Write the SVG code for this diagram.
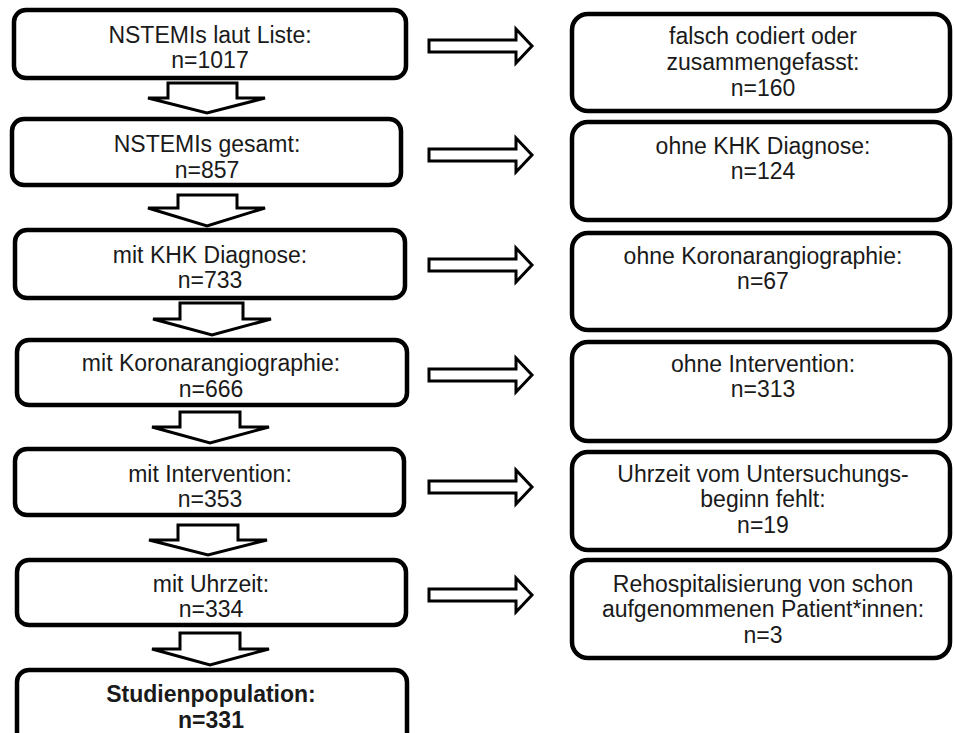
<svg xmlns="http://www.w3.org/2000/svg" width="954" height="733" viewBox="0 0 954 733">
<style>
.box{fill:#fff;stroke:#000;stroke-width:4.5}
.arr{fill:#fff;stroke:#000;stroke-width:3;stroke-linejoin:miter}
text{font-family:"Liberation Sans",Arial,sans-serif;font-size:23px;fill:#1a1a1a;text-anchor:middle}
.b{font-weight:bold}
</style>
<rect width="954" height="733" fill="#fff"/>
<g id="connectors">
<polygon class="arr" points="168,83 237,83 237,98 265,98 207,113 148,98 168,98"/>
<polygon class="arr" points="178,195 237,195 237,208 265,208 207,226 148,208 178,208"/>
<polygon class="arr" points="180,303 243,303 243,319 271,319 212,335 153,319 180,319"/>
<polygon class="arr" points="180,412 240,412 240,427 269,427 210,443 152,427 180,427"/>
<polygon class="arr" points="178,525 238,525 238,540 267,540 208,555 149,540 178,540"/>
<polygon class="arr" points="180,633 240,633 240,649 269,649 210,665 152,649 180,649"/>
<polygon class="arr" points="429,40 516,40 516,29 532,46 516,63 516,52 429,52"/>
<polygon class="arr" points="429,149 516,149 516,138 532,155 516,172 516,161 429,161"/>
<polygon class="arr" points="429,259 516,259 516,248 532,265 516,282 516,271 429,271"/>
<polygon class="arr" points="429,369 516,369 516,358 532,375 516,392 516,381 429,381"/>
<polygon class="arr" points="429,481 516,481 516,470 532,487 516,504 516,493 429,493"/>
<polygon class="arr" points="429,589 516,589 516,578 532,595 516,612 516,601 429,601"/>
</g>
<g id="n1"><rect class="box" x="14" y="10" width="392" height="68" rx="12"/><text x="210" y="43">NSTEMIs laut Liste:</text><text x="210" y="68">n=1017</text></g>
<g id="n2"><rect class="box" x="12" y="119" width="389" height="66" rx="12"/><text x="207" y="152">NSTEMIs gesamt:</text><text x="207" y="178">n=857</text></g>
<g id="n3"><rect class="box" x="15" y="230" width="390" height="68" rx="12"/><text x="210" y="263">mit KHK Diagnose:</text><text x="210" y="288">n=733</text></g>
<g id="n4"><rect class="box" x="17" y="340" width="390" height="65" rx="12"/><text x="211" y="371">mit Koronarangiographie:</text><text x="211" y="397">n=666</text></g>
<g id="n5"><rect class="box" x="15" y="449" width="389" height="66" rx="12"/><text x="210" y="482">mit Intervention:</text><text x="210" y="507">n=353</text></g>
<g id="n6"><rect class="box" x="17" y="560" width="389" height="65" rx="12"/><text x="211" y="592">mit Uhrzeit:</text><text x="211" y="617">n=334</text></g>
<g id="n7"><rect class="box" x="17" y="670" width="390" height="80" rx="12"/><text class="b" x="211" y="702">Studienpopulation:</text><text class="b" x="211" y="728">n=331</text></g>
<g id="r1"><rect class="box" x="572" y="14" width="378" height="97" rx="16"/><text x="763" y="44">falsch codiert oder</text><text x="763" y="70">zusammengefasst:</text><text x="763" y="96">n=160</text></g>
<g id="r2"><rect class="box" x="572" y="122" width="378" height="98" rx="16"/><text x="763" y="154">ohne KHK Diagnose:</text><text x="763" y="179">n=124</text></g>
<g id="r3"><rect class="box" x="572" y="233" width="378" height="97" rx="16"/><text x="763" y="264">ohne Koronarangiographie:</text><text x="763" y="289">n=67</text></g>
<g id="r4"><rect class="box" x="572" y="342" width="378" height="99" rx="16"/><text x="763" y="372">ohne Intervention:</text><text x="763" y="397">n=313</text></g>
<g id="r5"><rect class="box" x="572" y="452" width="378" height="98" rx="16"/><text x="763" y="482">Uhrzeit vom Untersuchungs-</text><text x="763" y="507">beginn fehlt:</text><text x="763" y="533">n=19</text></g>
<g id="r6"><rect class="box" x="572" y="560" width="378" height="98" rx="16"/><text x="763" y="592">Rehospitalisierung von schon</text><text x="763" y="617">aufgenommenen Patient*innen:</text><text x="763" y="643">n=3</text></g>
</svg>
